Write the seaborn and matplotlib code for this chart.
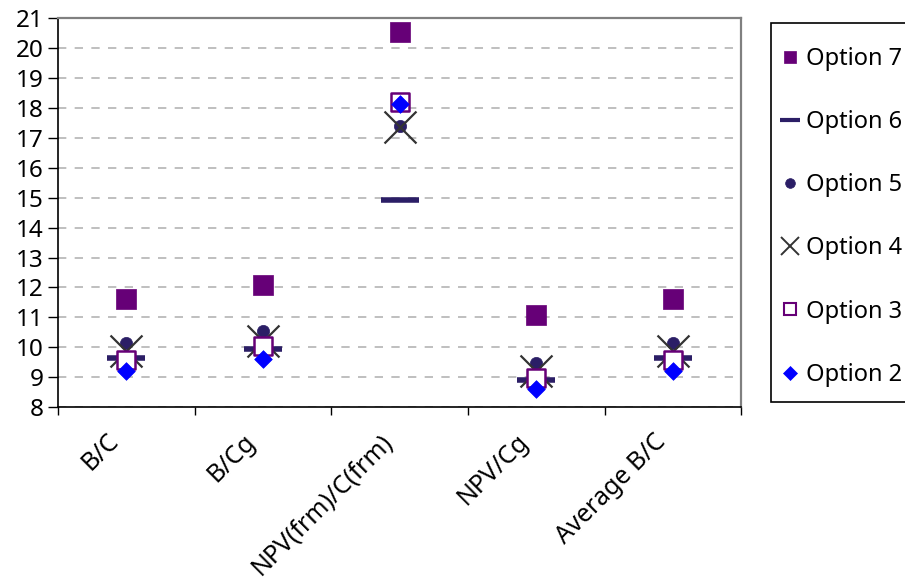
import numpy as np
import pandas as pd
import seaborn as sns
import matplotlib.pyplot as plt
from matplotlib.lines import Line2D
from matplotlib.patches import Rectangle
from matplotlib.transforms import ScaledTranslation

categories = ["B/C", "B/Cg", "NPV(frm)/C(frm)", "NPV/Cg", "Average B/C"]
option_names = ["Option 7", "Option 6", "Option 5", "Option 4", "Option 3", "Option 2"]

option7 = [11.63, 12.09, 20.52, 11.09, 11.63]
option6 = [9.64, 9.96, 14.92, 8.90, 9.64]
option5 = [10.15, 10.56, 17.38, 9.48, 10.15]
option4 = [9.86, 10.22, 17.35, 9.20, 9.86]
option3 = [9.58, 10.03, 18.19, 8.98, 9.58]
option2 = [9.22, 9.61, 18.13, 8.60, 9.22]

sns.set_style("white")
plt.rcParams["font.family"] = ["Noto Sans", "DejaVu Sans"]

df = pd.DataFrame({"category": categories,
                   "Option 7": option7, "Option 6": option6, "Option 5": option5,
                   "Option 4": option4, "Option 3": option3, "Option 2": option2})

purple = "#660077"
navy = "#2B1E66"
fs = 17.5

# marker styles: (marker, size pts, facecolor, edgecolor, linewidth)
styles = {
    "Option 7": ("s", 14, purple, purple, 0.5),
    "Option 6": ("_", 27, navy, navy, 4),
    "Option 5": ("o", 8.8, navy, navy, 0.5),
    "Option 4": ("x", 23, "#333333", "#333333", 1.6),
    "Option 3": ("s", 13, "white", purple, 1.8),
    "Option 2": ("D", 9, "#0000FF", "#0000FF", 0.5),
}
legend_sizes = {"Option 7": 9, "Option 6": 14, "Option 5": 7,
                "Option 4": 13, "Option 3": 8, "Option 2": 7.5}

fig = plt.figure(figsize=(9.05, 5.85), dpi=100)
ax = fig.add_axes([0.064, 0.304, 0.755, 0.665])

for z, name in enumerate(option_names):
    m, ms, fc, ec, lw = styles[name]
    if m in ("x", "_"):
        sns.scatterplot(data=df, x="category", y=name, marker=m, s=ms ** 2,
                        color=ec, linewidth=lw, ax=ax, zorder=3 + z)
    else:
        sns.scatterplot(data=df, x="category", y=name, marker=m, s=ms ** 2,
                        facecolor=fc, edgecolor=ec, linewidth=lw, ax=ax, zorder=3 + z)

ax.set_xlim(-0.5, 4.5)
ax.set_ylim(8, 21)
ax.set_yticks(range(8, 22))
ax.set_xlabel("")
ax.set_ylabel("")

ax.set_xticks(range(len(categories)))
ax.set_xticks(np.arange(-0.5, 5, 1), minor=True)
ax.tick_params(axis="x", which="major", length=0, pad=22, labelsize=18, labelcolor="black")
ax.tick_params(axis="x", which="minor", length=6, width=1, direction="out", color="black")
ax.tick_params(axis="y", length=7, width=1, direction="out", color="black",
               labelsize=fs, pad=3, labelcolor="black")
ax.tick_params(axis="x", bottom=True, which="both")
ax.tick_params(axis="y", left=True)
shift = ScaledTranslation(-8 / 72, 0, fig.dpi_scale_trans)
for lab in ax.get_xticklabels():
    lab.set_rotation(45)
    lab.set_ha("right")
    lab.set_va("center")
    lab.set_rotation_mode("anchor")
    lab.set_transform(lab.get_transform() + shift)

ax.yaxis.grid(True, color="#B4B4B4", linestyle=(0, (5, 5)), linewidth=1.2)
ax.set_axisbelow(True)
for s in ["left", "bottom"]:
    ax.spines[s].set_color("black")
    ax.spines[s].set_linewidth(1.2)
for s in ["top", "right"]:
    ax.spines[s].set_color("#808080")
    ax.spines[s].set_linewidth(1.6)

handles = []
for name in option_names:
    m, ms, fc, ec, lw = styles[name]
    if m == "x":
        mew = 1.4
    elif m == "_":
        mew = 3
    elif name == "Option 3":
        mew = 1.5
    else:
        mew = 0.5
    handles.append(Line2D([], [], linestyle="none", marker=m, markersize=legend_sizes[name],
                          markerfacecolor=fc, markeredgecolor=ec, markeredgewidth=mew,
                          color=ec, label=name))

# legend box runs off the right edge of the figure, as in the original
fig.add_artist(Rectangle((0.852, 0.3128), 0.2, 0.648, transform=fig.transFigure,
                         facecolor="white", edgecolor="black", linewidth=1.2, zorder=1))
leg = fig.legend(handles=handles, loc="upper left", bbox_to_anchor=(0.8615, 0.92),
                 frameon=False, fontsize=17,
                 labelspacing=1.66, borderpad=0, handlelength=0.85, handletextpad=0.25,
                 borderaxespad=0)
leg.set_zorder(2)
for t in leg.get_texts():
    t.set_color("black")

fig.savefig("out.png", dpi=100)
